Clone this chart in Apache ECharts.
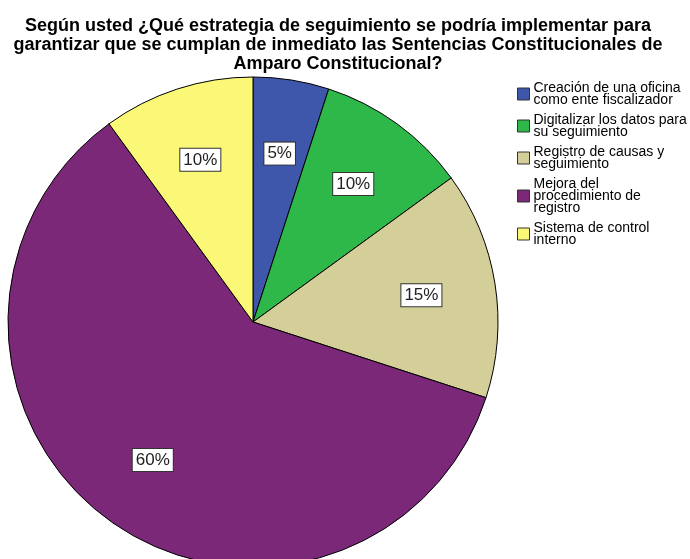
<!DOCTYPE html>
<html>
<head>
<meta charset="utf-8">
<script src="https://cdn.jsdelivr.net/npm/echarts@6/dist/echarts.min.js"></script>
<style>
  html, body { margin: 0; padding: 0; background: #fff; }
  #main { width: 690px; height: 559px; }
</style>
</head>
<body>
<div id="main"></div>
<script>
var categories = [
    'Creación de una oficina\ncomo ente fiscalizador',
    'Digitalizar los datos para\nsu seguimiento',
    'Registro de causas y\nseguimiento',
    'Mejora del\nprocedimiento de\nregistro',
    'Sistema de control\ninterno'
];
var percents = [5, 10, 15, 60, 10];
var colors = ['#3e57aa', '#2fb84a', '#d4cf98', '#7b2879', '#fbf877'];

var myChart = echarts.init(document.getElementById('main'), null, { renderer: 'canvas' });

var sliceData = categories.map(function (name, i) {
    return { name: name, value: percents[i], itemStyle: { color: colors[i] } };
});

var option = {
    animation: false,
    title: {
        text: 'Según usted ¿Qué estrategia de seguimiento se podría implementar para\ngarantizar que se cumplan de inmediato las Sentencias Constitucionales de\nAmparo Constitucional?',
        left: 333,
        textAlign: 'center',
        top: 12,
        textStyle: {
            fontFamily: 'Liberation Sans, Arial, sans-serif',
            fontSize: 18,
            fontWeight: 'bold',
            color: '#000',
            lineHeight: 19
        }
    },
    legend: {
        orient: 'vertical',
        left: 512,
        top: 76,
        itemWidth: 12,
        itemHeight: 12,
        itemGap: 6,
        icon: 'rect',
        selectedMode: false,
        itemStyle: { borderColor: '#333', borderWidth: 1 },
        textStyle: {
            fontFamily: 'Liberation Sans, Arial, sans-serif',
            fontSize: 14,
            lineHeight: 12,
            color: '#000',
            padding: [0, 0, 0, -1]
        },
        data: categories
    },
    series: [
        {
            type: 'pie',
            center: [253, 322],
            radius: 245,
            startAngle: 90,
            clockwise: true,
            silent: true,
            label: { show: false },
            labelLine: { show: false },
            itemStyle: { borderColor: '#000', borderWidth: 1 },
            data: sliceData
        },
        {
            type: 'pie',
            center: [253, 322],
            radius: 335,
            startAngle: 90,
            clockwise: true,
            silent: true,
            legendHoverLink: false,
            itemStyle: { color: 'rgba(0,0,0,0)' },
            label: {
                show: true,
                position: 'inside',
                formatter: '{c}%',
                fontFamily: 'Liberation Sans, Arial, sans-serif',
                fontSize: 17,
                color: '#222',
                backgroundColor: '#fff',
                borderColor: '#333',
                borderWidth: 1,
                padding: [3, 3, 2, 3]
            },
            data: categories.map(function (name, i) {
                return { name: name, value: percents[i] };
            })
        }
    ]
};

myChart.setOption(option);
window.addEventListener('resize', myChart.resize);
</script>
</body>
</html>
